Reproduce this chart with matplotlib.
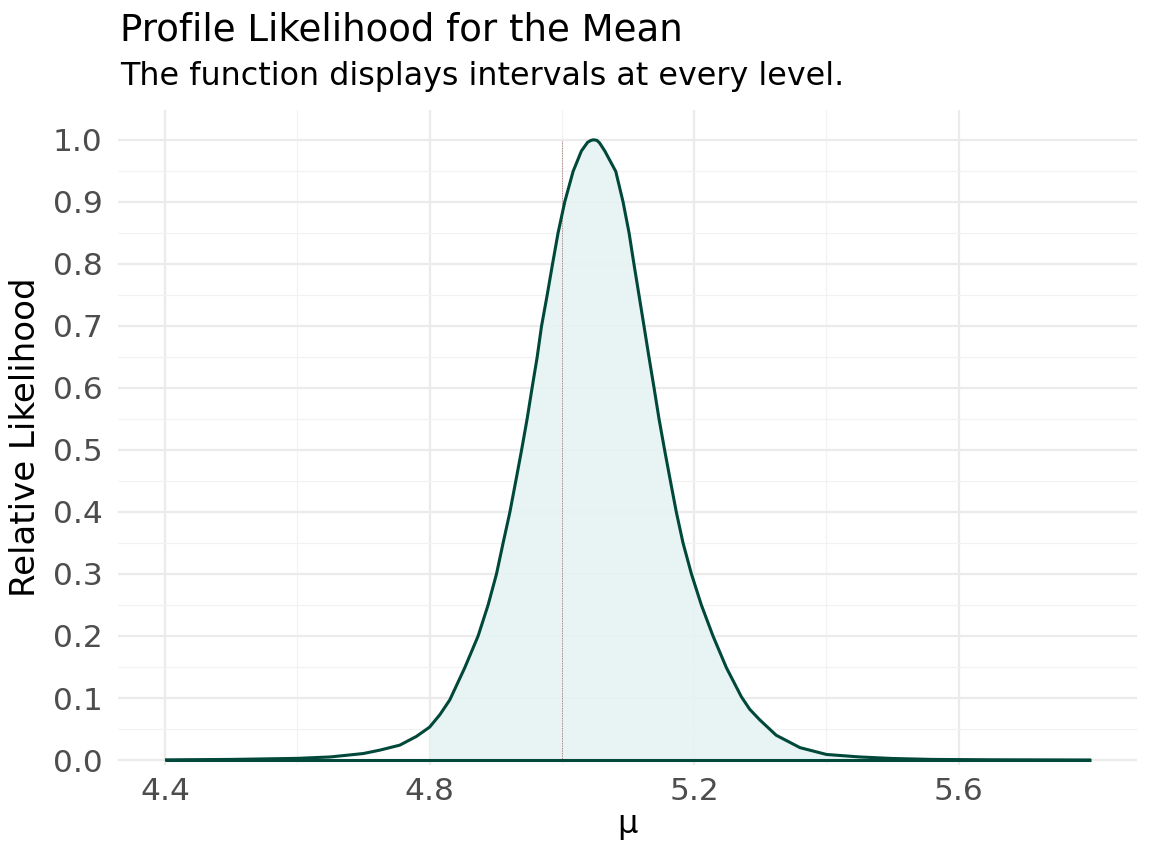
import matplotlib
matplotlib.use("Agg")
import matplotlib.pyplot as plt
import numpy as np

# Values
mu = [4.40, 4.50, 4.60, 4.65, 4.70, 4.725, 4.755, 4.78, 4.80, 4.8155, 4.8306,
      4.8533, 4.8734, 4.8885, 4.9012, 4.9112, 4.9213, 4.9304, 4.939, 4.9475,
      4.955, 4.9626, 4.9692, 4.9777, 4.9858, 4.9943, 5.0044, 5.017, 5.0296,
      5.039, 5.044, 5.048, 5.053, 5.057, 5.0649, 5.0815, 5.0925, 5.1016,
      5.1091, 5.1167, 5.1243, 5.1318, 5.1394, 5.1469, 5.1555, 5.1641, 5.1732,
      5.1832, 5.1959, 5.2109, 5.2285, 5.2487, 5.2714, 5.2839, 5.299, 5.324,
      5.360, 5.400, 5.450, 5.500, 5.560, 5.650, 5.800]
rel_lik = [0.0003, 0.0010, 0.0027, 0.0050, 0.0105, 0.016, 0.024, 0.038, 0.053,
           0.073, 0.097, 0.149, 0.200, 0.250, 0.300, 0.350, 0.399, 0.450, 0.499,
           0.550, 0.600, 0.649, 0.699, 0.749, 0.799, 0.850, 0.900, 0.949, 0.982,
           0.996, 0.999, 1.000, 0.999, 0.995, 0.982, 0.949, 0.900, 0.850, 0.799,
           0.749, 0.699, 0.649, 0.600, 0.550, 0.499, 0.450, 0.399, 0.350, 0.300,
           0.250, 0.200, 0.149, 0.102, 0.082, 0.065, 0.040, 0.020, 0.009,
           0.0050, 0.0025, 0.0010, 0.0004, 0.0001]
fill_start = 4.8
ref_mu = 5.0
x_ticks = [4.4, 4.8, 5.2, 5.6]
x_minor = [4.6, 5.0, 5.4]
y_ticks = [0.0, 0.1, 0.2, 0.3, 0.4, 0.5, 0.6, 0.7, 0.8, 0.9, 1.0]
y_minor = [0.05, 0.15, 0.25, 0.35, 0.45, 0.55, 0.65, 0.75, 0.85, 0.95]

title = "Profile Likelihood for the Mean"
subtitle = "The function displays intervals at every level."
xlabel = "μ"
ylabel = "Relative Likelihood"

line_col = "#00483A"
fill_col = "#E6F3F2"
grid_col = "#EBEBEB"

plt.rcParams['font.family'] = ['DejaVu Sans']
fig = plt.figure(figsize=(11.52, 8.64), dpi=100)
L, R, T, B = 118, 1137, 110, 765
ax = fig.add_axes([L/1152, 1-B/864, (R-L)/1152, (B-T)/864])

x = np.array(mu)
y = np.array(rel_lik)

ax.fill_between(x, 0, y, where=x >= fill_start, color=fill_col, alpha=0.9,
                linewidth=0, zorder=2, interpolate=False)
ax.vlines(ref_mu, 0, max(rel_lik), colors="#8E6660", linestyles=(0, (1, 1)),
          linewidth=0.6, zorder=3)
ax.plot(x, y, color=line_col, linewidth=2.2, zorder=4, solid_capstyle='butt',
        solid_joinstyle='round')
ax.plot([x[0], x[-1]], [0, 0], color=line_col, linewidth=2.2, zorder=4,
        solid_capstyle='butt')

ax.set_xlim(4.329, 5.8695)
ax.set_ylim(-0.008, 1.048)
ax.set_xticks(x_ticks)
ax.set_xticklabels([f"{v:.1f}" for v in x_ticks])
ax.set_xticks(x_minor, minor=True)
ax.set_yticks(y_ticks)
ax.set_yticklabels([f"{v:.1f}" for v in y_ticks])
ax.set_yticks(y_minor, minor=True)

ax.grid(True, which='major', color=grid_col, linewidth=1.6, zorder=0)
ax.grid(True, which='minor', color="#F2F2F2", linewidth=0.9, zorder=0)
ax.set_axisbelow(True)
for s in ax.spines.values():
    s.set_visible(False)
ax.tick_params(which='both', length=0, labelsize=22.5, labelcolor="#4D4D4D")
ax.tick_params(axis='x', pad=9)
ax.tick_params(axis='y', pad=11)

ax.set_xlabel(xlabel, fontsize=23, color="black", labelpad=2)
ax.set_ylabel(ylabel, fontsize=24.5, color="black", labelpad=8)

fig.text(120/1152, 1-30/864, title, fontsize=26.7, color="black",
         ha='left', va='center')
fig.text(120/1152, 1-77/864, subtitle, fontsize=22.9, color="black",
         ha='left', va='center')

fig.savefig("out.png", dpi=100, facecolor="white")
